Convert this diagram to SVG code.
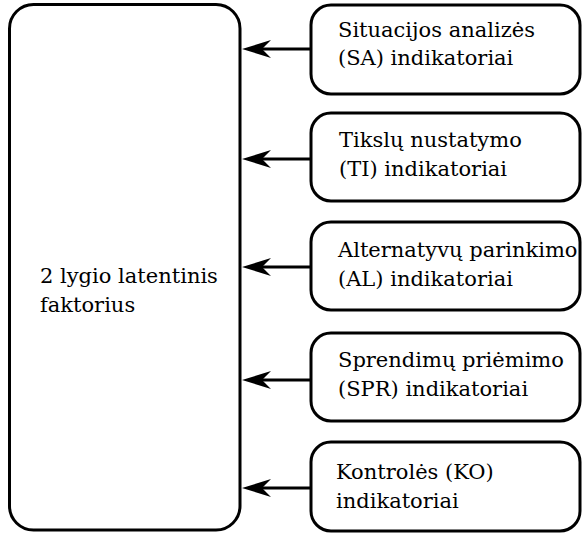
<svg xmlns="http://www.w3.org/2000/svg" xmlns:xlink="http://www.w3.org/1999/xlink" width="582" height="536" viewBox="0 0 582 536">
<style>
.box{fill:#fff;stroke:#000;stroke-width:3}
.c{stroke:#000;stroke-width:3;fill:none}
.t{font-family:'DejaVu Serif',serif;font-size:21px;fill:#000}
</style>
<defs>
<path id="head" d="M0,0 L29,-9 L20,0 L29,9 Z" fill="#000"/>
</defs>
<rect width="582" height="536" fill="#fff"/>
<g id="connectors">
<path class="c" d="M311,49 H250"/>
<use xlink:href="#head" href="#head" x="242" y="49"/>
<path class="c" d="M311,159 H250"/>
<use xlink:href="#head" href="#head" x="242" y="159"/>
<path class="c" d="M311,267 H250"/>
<use xlink:href="#head" href="#head" x="242" y="267"/>
<path class="c" d="M311,380 H250"/>
<use xlink:href="#head" href="#head" x="242" y="380"/>
<path class="c" d="M311,488 H250"/>
<use xlink:href="#head" href="#head" x="242" y="488"/>
</g>
<g id="latent">
<rect class="box" x="9.5" y="4.5" width="230.5" height="525.5" rx="24"/>
<text class="t" x="40" y="283">2 lygio latentinis<tspan x="40" y="312">faktorius</tspan></text>
</g>
<g id="SA">
<rect class="box" x="311" y="5" width="269" height="89" rx="20"/>
<text class="t" x="338" y="37">Situacijos analizės<tspan x="338" y="65">(SA) indikatoriai</tspan></text>
</g>
<g id="TI">
<rect class="box" x="311" y="113" width="269" height="88" rx="20"/>
<text class="t" x="339" y="147">Tikslų nustatymo<tspan x="339" y="176">(TI) indikatoriai</tspan></text>
</g>
<g id="AL">
<rect class="box" x="311" y="222" width="269" height="88" rx="20"/>
<text class="t" x="338" y="257">Alternatyvų parinkimo<tspan x="338" y="286">(AL) indikatoriai</tspan></text>
</g>
<g id="SPR">
<rect class="box" x="311" y="333" width="269" height="88" rx="20"/>
<text class="t" x="338" y="367">Sprendimų priėmimo<tspan x="338" y="396">(SPR) indikatoriai</tspan></text>
</g>
<g id="KO">
<rect class="box" x="311" y="442" width="269" height="89" rx="20"/>
<text class="t" x="336" y="479">Kontrolės (KO)<tspan x="336" y="508">indikatoriai</tspan></text>
</g>
</svg>
